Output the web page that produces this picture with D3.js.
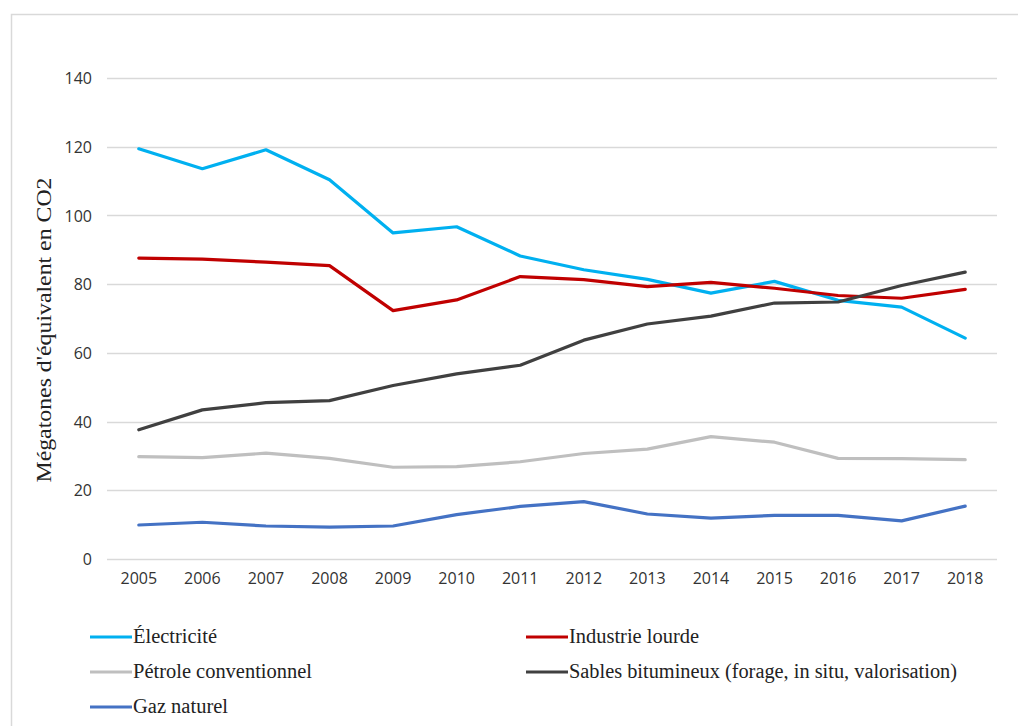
<!DOCTYPE html>
<html>
<head>
<meta charset="utf-8">
<script src="https://cdn.jsdelivr.net/npm/d3@7"></script>
<style>
  html, body { margin: 0; padding: 0; background: #fff; }
  svg { display: block; }
  .serif { font-family: "Liberation Serif", "Times New Roman", serif; }
  .sans { font-family: "Open Sans", "Liberation Sans", sans-serif; }
</style>
</head>
<body>
<div id="chart"></div>
<script>
const years = ["2005","2006","2007","2008","2009","2010","2011","2012","2013","2014","2015","2016","2017","2018"];
const electricite = [119.4, 113.6, 119.1, 110.4, 94.9, 96.7, 88.2, 84.2, 81.4, 77.4, 80.8, 75.3, 73.3, 64.3];
const industrie   = [87.6, 87.3, 86.4, 85.4, 72.3, 75.4, 82.2, 81.3, 79.3, 80.5, 78.8, 76.7, 75.9, 78.5];
const petrole     = [29.8, 29.5, 30.8, 29.3, 26.7, 26.9, 28.3, 30.7, 32.0, 35.6, 34.0, 29.3, 29.2, 28.9];
const sables      = [37.6, 43.4, 45.5, 46.1, 50.5, 53.9, 56.4, 63.7, 68.4, 70.7, 74.5, 74.8, 79.6, 83.5];
const gaz         = [9.9, 10.7, 9.6, 9.3, 9.6, 12.9, 15.3, 16.7, 13.1, 11.9, 12.7, 12.7, 11.1, 15.4];
const yTicks = [0, 20, 40, 60, 80, 100, 120, 140];
const seriesNames = ["Électricité", "Industrie lourde", "Pétrole conventionnel", "Sables bitumineux (forage, in situ, valorisation)", "Gaz naturel"];
const seriesColors = ["#00B0F0", "#C00000", "#BFBFBF", "#404040", "#4472C4"];
const seriesValues = [electricite, industrie, petrole, sables, gaz];
const yTitle = "Mégatones d'équivalent en CO2";

const W = 1018, H = 726;
const svg = d3.select("#chart").append("svg").attr("width", W).attr("height", H);

// frame
svg.append("rect").attr("x", 11.5).attr("y", 14.5).attr("width", 1200).attr("height", 900)
  .attr("fill", "none").attr("stroke", "#D9D9D9").attr("stroke-width", 1.5);

const x = d3.scaleBand().domain(years).range([107, 997]);
const y = d3.scaleLinear().domain([0, 140]).range([559, 78]);

// gridlines
svg.append("g").selectAll("line").data(yTicks).join("line")
  .attr("x1", 107).attr("x2", 997)
  .attr("y1", d => Math.round(y(d)) + 0.5).attr("y2", d => Math.round(y(d)) + 0.5)
  .attr("stroke", "#D9D9D9").attr("stroke-width", 1.3);

// y axis labels
const yAxis = d3.axisLeft(y).tickValues(yTicks).tickSize(0).tickPadding(0);
const gy = svg.append("g").attr("transform", "translate(92,0)").call(yAxis);
gy.select(".domain").remove();
gy.attr("font-family", null).attr("font-size", null);
gy.selectAll("text").attr("class", "sans")
  .style("font-size", "16px").attr("fill", "#333").attr("dy", "0.35em");

// x axis labels
const xAxis = d3.axisBottom(x).tickSize(0).tickPadding(0);
const gx = svg.append("g").attr("transform", "translate(0,573)").call(xAxis);
gx.select(".domain").remove();
gx.attr("font-family", null).attr("font-size", null);
gx.selectAll("text").attr("class", "sans")
  .style("font-size", "16px").attr("fill", "#333").attr("dy", "0.71em");

// y title
svg.append("text")
  .attr("class", "serif")
  .attr("transform", "translate(51,330) rotate(-90)")
  .attr("text-anchor", "middle")
  .style("font-size", "20px").attr("fill", "#222")
  .attr("textLength", 305).attr("lengthAdjust", "spacingAndGlyphs")
  .text(yTitle);

// lines
const line = d3.line().x((d, i) => x(years[i]) + x.bandwidth() / 2).y(d => y(d));
seriesValues.forEach((vals, k) => {
  svg.append("path").datum(vals)
    .attr("d", line).attr("fill", "none")
    .attr("stroke", seriesColors[k]).attr("stroke-width", 3.2)
    .attr("stroke-linejoin", "round").attr("stroke-linecap", "round");
});

// legend
const legendPos = [
  {lx: 90, ly: 637, w: 84},
  {lx: 526, ly: 637, w: 130},
  {lx: 90, ly: 672, w: 179},
  {lx: 526, ly: 672, w: 388},
  {lx: 90, ly: 707, w: 95}
];
seriesNames.forEach((name, k) => {
  const p = legendPos[k];
  svg.append("line").attr("x1", p.lx).attr("x2", p.lx + 42)
    .attr("y1", p.ly).attr("y2", p.ly)
    .attr("stroke", seriesColors[k]).attr("stroke-width", 3.2);
  svg.append("text").attr("class", "serif").attr("x", p.lx + 43).attr("y", p.ly + 6)
    .style("font-size", "20px").attr("fill", "#222")
    .attr("textLength", p.w).attr("lengthAdjust", "spacingAndGlyphs")
    .text(name);
});
</script>
</body>
</html>
